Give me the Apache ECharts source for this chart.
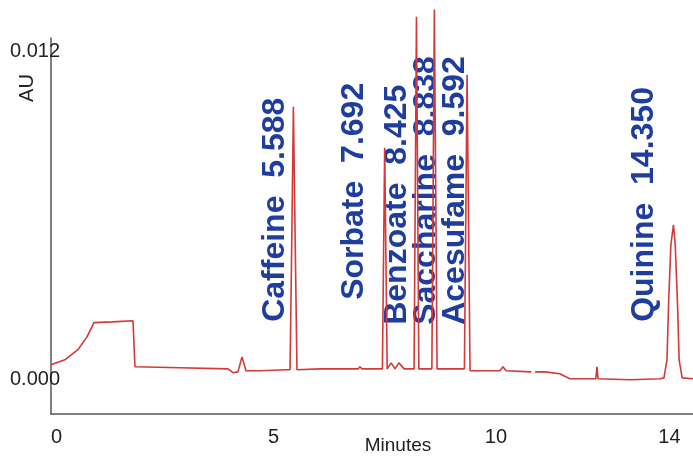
<!DOCTYPE html>
<html>
<head>
<meta charset="utf-8">
<script src="https://cdn.jsdelivr.net/npm/echarts@6/dist/echarts.min.js"></script>
<style>
html,body{margin:0;padding:0;background:#fff;}
#c{width:693px;height:457px;}
</style>
</head>
<body>
<div id="c"></div>
<script>
// Chromatogram trace (time in minutes, absorbance in AU); null = gap in trace
const times = [0, 0.32, 0.62, 0.83, 0.99, 1.41, 1.89, 1.936, 2.97, 4.08, 4.195, 4.31, 4.403, 4.495, 4.82, 5.42,
  5.51, 5.55, 5.588, 5.63, 5.67, 6.20, 7.08, 7.12, 7.17, 7.54,
  7.64, 7.692, 7.75, 7.84, 7.93, 8.02, 8.14, 8.30,
  8.37, 8.425, 8.48, 8.62, 8.78, 8.838, 8.90, 8.97, 9.47,
  9.53, 9.592, 9.66, 9.89, 10.35, 10.42, 10.49, 11.07, 11.11, 11.16, 11.39, 11.73, 11.96, 12.56, 12.587, 12.61,
  13.35, 14.04, 14.13, 14.20, 14.24, 14.29, 14.35, 14.39, 14.44, 14.48, 14.55, 14.80];
const values = [0.00055, 0.00073, 0.00110, 0.00157, 0.00209, 0.00212, 0.00216, 0.00048, 0.00044, 0.00040, 0.00026, 0.00029, 0.00084, 0.00033, 0.00033, 0.00037,
  0.00037, 0.00500, 0.00999, 0.00500, 0.00037, 0.00040, 0.00040, 0.00048, 0.00040, 0.00040,
  0.00040, 0.00849, 0.00040, 0.00062, 0.00040, 0.00062, 0.00040, 0.00040,
  0.00040, 0.01328, 0.00040, 0.00040, 0.00040, 0.01354, 0.00040, 0.00040, 0.00040,
  0.00040, 0.01116, 0.00033, 0.00033, 0.00033, 0.00048, 0.00033, 0.00029, null, 0.00029, 0.00029, 0.00022, 0.00004, 0.00004, 0.00048, 0.00004,
  0.00000, 0.00004, 0.00007, 0.00073, 0.00293, 0.00494, 0.00567, 0.00494, 0.00293, 0.00073, 0.00007, 0.00004];

// Peak annotations
const peakNames = ['Caffeine', 'Sorbate', 'Benzoate', 'Saccharine', 'Acesufame', 'Quinine'];
const peakTimes = [5.588, 7.692, 8.425, 8.838, 9.592, 14.350];
const peakTimeLabels = ['5.588', '7.692', '8.425', '8.838', '9.592', '14.350'];

// Axis tick labels
const xTicks = [0, 5, 10, 14];
const yTicks = [0, 0.012];

// label offsets (px) from each peak's baseline point
const labelOffsets = [[-18, -58], [-30, -80], [-19, -55], [-8, -55], [-12, -55], [-29, -58]];

const chart = echarts.init(document.getElementById('c'));
const FONT = '"Liberation Sans", Arial, sans-serif';

chart.setOption({
  animation: false,
  backgroundColor: '#ffffff',
  grid: { left: 51, right: 0, top: 38, bottom: 43, outerBoundsMode: 'none' },
  xAxis: {
    type: 'value', min: 0, max: 14.8,
    axisLine: { onZero: false, lineStyle: { color: '#555', width: 1.5 } },
    axisTick: { show: false },
    splitLine: { show: false },
    axisLabel: { customValues: xTicks, align: 'left', margin: 13, fontSize: 20, color: '#222', fontFamily: FONT,
      formatter: v => String(v) }
  },
  yAxis: {
    type: 'value', min: -0.00125, max: 0.0125,
    axisLine: { show: true, onZero: false, lineStyle: { color: '#555', width: 1.5 } },
    axisTick: { show: false },
    splitLine: { show: false },
    axisLabel: { customValues: yTicks, align: 'left', margin: 41, fontSize: 20, color: '#222', fontFamily: FONT,
      formatter: v => Number(v).toFixed(3) }
  },
  series: [
    {
      type: 'scatter',
      symbolSize: 0,
      clip: false,
      silent: true,
      z: 1,
      itemStyle: { opacity: 1 },
      labelLayout: { hideOverlap: false },
      data: peakTimes.map((t, i) => ({
        value: [t, 0],
        label: {
          show: true,
          formatter: peakNames[i] + '  ' + peakTimeLabels[i],
          position: labelOffsets[i],
          rotate: 90,
          align: 'left',
          verticalAlign: 'middle',
          fontSize: 32,
          fontWeight: 'bold',
          fontFamily: FONT,
          color: '#1f3d9f',
          textBorderWidth: 0,
          opacity: 1
        }
      }))
    },
    {
      type: 'line',
      data: times.map((t, i) => [t, values[i]]),
      showSymbol: false,
      clip: false,
      connectNulls: false,
      lineStyle: { color: '#d4393a', width: 1.6 },
      z: 10
    }
  ],
  graphic: [
    { type: 'text', x: 27, y: 88, rotation: Math.PI / 2,
      style: { text: 'AU', fontSize: 20, fontFamily: FONT, fill: '#222', textAlign: 'center', textVerticalAlign: 'middle' } },
    { type: 'text', x: 398, y: 446,
      style: { text: 'Minutes', fontSize: 19, fontFamily: FONT, fill: '#222', textAlign: 'center', textVerticalAlign: 'middle' } }
  ]
});
</script>
</body>
</html>
